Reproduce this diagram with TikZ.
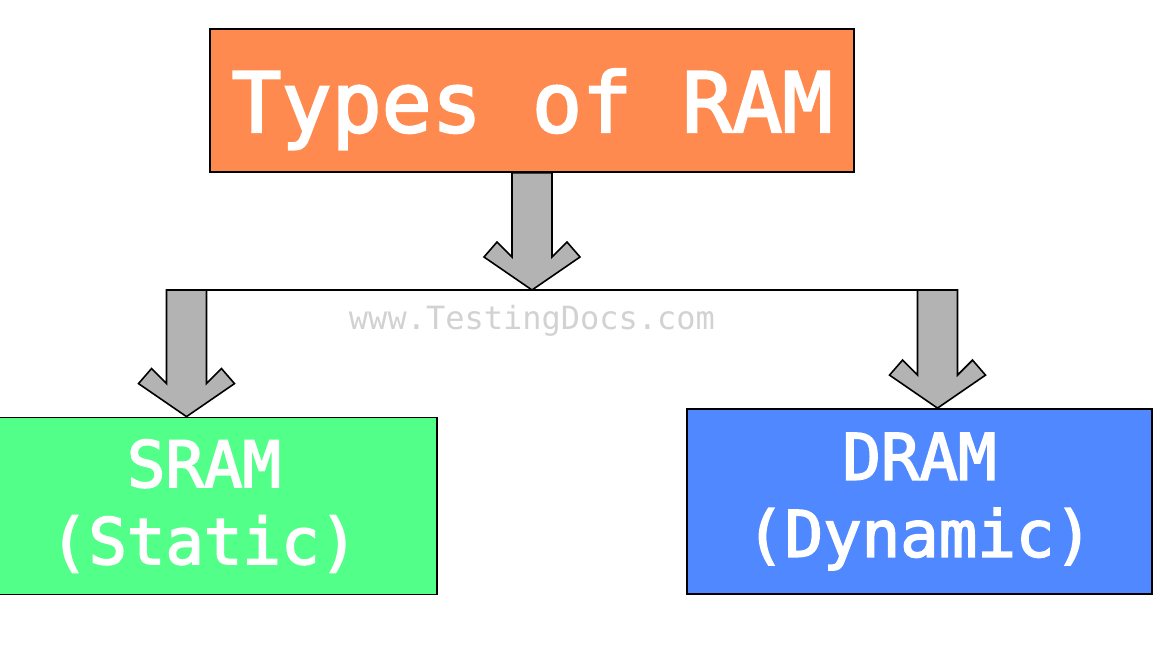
\documentclass[tikz,border=0pt]{standalone}
\usepackage{fontspec}
\newfontfamily\ramfont[FakeBold=2.6]{DejaVu Sans Mono}
\newfontfamily\sitefont{DejaVu Sans Mono}
\usetikzlibrary{positioning,calc}

\definecolor{ramorange}{HTML}{FF8A50}
\definecolor{ramgreen}{HTML}{52FF88}
\definecolor{ramblue}{HTML}{4F88FF}
\definecolor{arrowgray}{HTML}{B3B3B3}
\definecolor{sitegray}{HTML}{D2D2D2}

% fat arrow with a chevron head, from #1 down to the tip #2
\newcommand{\blockarrow}[2]{%
  \path[draw=black,fill=arrowgray,line width=0.8pt,line join=miter] let \p1=#1, \p2=#2 in
    (\x2-10pt,\y1) -- (\x2-10pt,\y2+16.5pt) -- (\x2-17.5pt,\y2+24pt) -- (\x2-24pt,\y2+16.5pt)
    -- (\x2,\y2) -- (\x2+24pt,\y2+16.5pt) -- (\x2+17.5pt,\y2+24pt) -- (\x2+10pt,\y2+16.5pt)
    -- (\x2+10pt,\y1) -- cycle;}

\begin{document}
\begin{tikzpicture}[x=0.5pt, y=-0.5pt, semithick]
    \tikzstyle{rambox}=[draw=black,line width=0.9pt,text=white,align=center,inner sep=0pt]
    \tikzstyle{bigtext}=[font=\ramfont\fontsize{41.6}{49}\selectfont,text depth=0pt]
    \tikzstyle{boxtext}=[font=\ramfont\fontsize{32}{38.5}\selectfont]
    \useasboundingbox (0,0) rectangle (1160,665);

    \node[rambox,bigtext,fill=ramorange,minimum width=322pt,minimum height=71.5pt] (types) at (532,100.5) {Types of RAM};
    \node[rambox,boxtext,fill=ramgreen,minimum width=233pt,minimum height=88.5pt] (sram) at (204,506) {SRAM\\(Static)};
    \node[rambox,boxtext,fill=ramblue,minimum width=232.5pt,minimum height=92.5pt] (dram) at (919.5,501.5) {DRAM\\(Dynamic)};

    % split line
    \coordinate (split) at (532,290);
    \coordinate (dropL) at (186.5,290);
    \coordinate (dropR) at (937.5,290);

    % arrows
    \blockarrow{(types.south)}{(split)}
    \blockarrow{(dropL)}{(dropL |- sram.north)}
    \blockarrow{(dropR)}{(dropR |- dram.north)}
    \draw[line width=0.8pt] ([xshift=-10pt]dropL) -- ([xshift=10pt]dropR);

    \node[text=sitegray,font=\sitefont\fontsize{16}{19}\selectfont,below=4pt of split] (site) {www.TestingDocs.com};
\end{tikzpicture}
\end{document}
